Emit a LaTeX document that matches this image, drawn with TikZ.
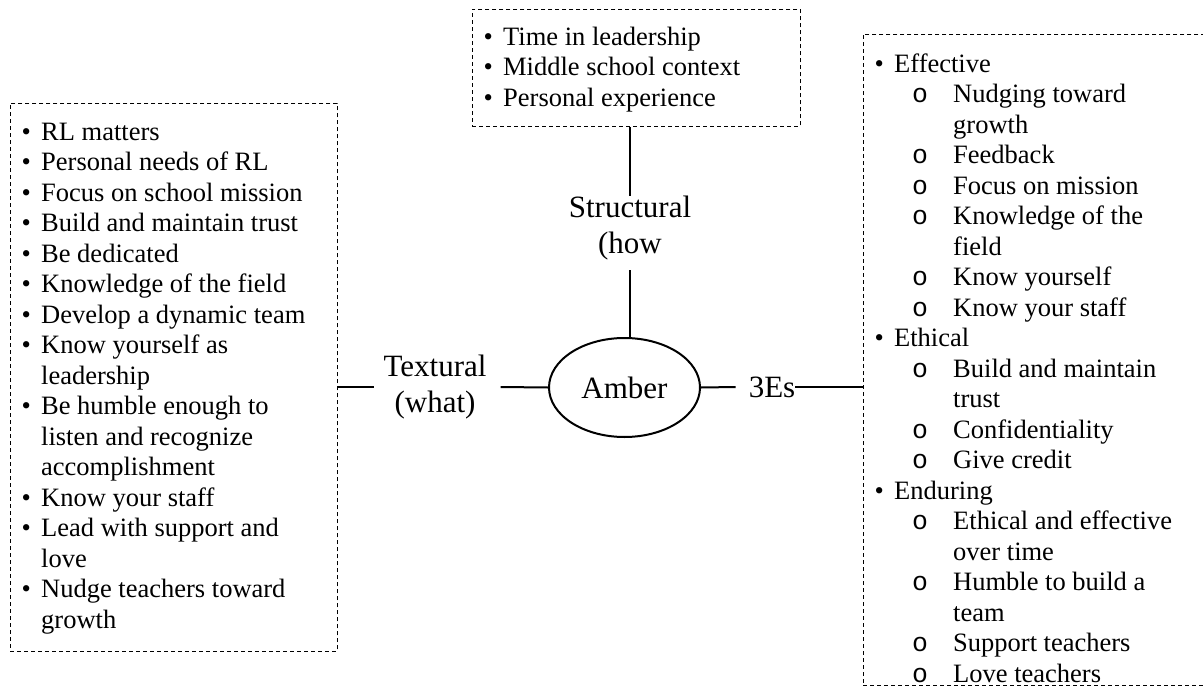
\documentclass[tikz,border=0pt]{standalone}
\usepackage{fontspec}
\setmainfont{Liberation Serif}
\newfontfamily\listmono{Liberation Mono}
\usetikzlibrary{shapes.geometric}

% list line helpers: bullet, sub-bullet and their continuation lines
\newcommand\itm{\rule{0pt}{20pt}\makebox[31pt][l]{\hspace{11.4pt}•}}
\newcommand\subitm{\rule{0pt}{20pt}\makebox[90pt][l]{\hspace{49pt}{\listmono o}}}
\newcommand\cont{\rule{0pt}{20pt}\hspace*{31pt}}
\newcommand\subcont{\rule{0pt}{20pt}\hspace*{90pt}}

\begin{document}
\begin{tikzpicture}[x=1pt,y=-1pt,
  dashbox/.style={draw, dash pattern=on 4pt off 3pt, line width=0.9pt,
    inner sep=0pt, anchor=north west},
  listtext/.style={align=left, inner sep=0pt, anchor=north west,
    font=\fontsize{26.5pt}{30.5pt}\selectfont},
  label/.style={align=center, inner sep=0pt,
    font=\fontsize{31pt}{35.5pt}\selectfont},
  link/.style={line width=2pt}]
\useasboundingbox (0,0) rectangle (1203,696);
\clip (0,0) rectangle (1203,696);

% structural box
\node[dashbox, minimum width=328pt, minimum height=117pt] (factors) at (472,9) {};
\node[listtext] (factorlist) at ([yshift=-16pt]factors.north west)
  {\itm Time in leadership\\
   \itm Middle school context\\
   \itm Personal experience};

% textural box
\node[dashbox, minimum width=327pt, minimum height=548pt] (textbox) at (10,103) {};
\node[listtext] (textlist) at ([yshift=-17pt]textbox.north west)
  {\itm RL matters\\
   \itm Personal needs of RL\\
   \itm Focus on school mission\\
   \itm Build and maintain trust\\
   \itm Be dedicated\\
   \itm Knowledge of the field\\
   \itm Develop a dynamic team\\
   \itm Know yourself as\\
   \cont leadership\\
   \itm Be humble enough to\\
   \cont listen and recognize\\
   \cont accomplishment\\
   \itm Know your staff\\
   \itm Lead with support and\\
   \cont love\\
   \itm Nudge teachers toward\\
   \cont growth};

% 3Es box
\node[dashbox, minimum width=360pt, minimum height=651pt] (esbox) at (863,34) {};
\node[listtext] (eslist) at ([yshift=-18pt]esbox.north west)
  {\itm Effective\\
   \subitm Nudging toward\\
   \subcont growth\\
   \subitm Feedback\\
   \subitm Focus on mission\\
   \subitm Knowledge of the\\
   \subcont field\\
   \subitm Know yourself\\
   \subitm Know your staff\\
   \itm Ethical\\
   \subitm Build and maintain\\
   \subcont trust\\
   \subitm Confidentiality\\
   \subitm Give credit\\
   \itm Enduring\\
   \subitm Ethical and effective\\
   \subcont over time\\
   \subitm Humble to build a\\
   \subcont team\\
   \subitm Support teachers\\
   \subitm Love teachers};

% centre and branch labels
\node[ellipse, draw, line width=2pt, minimum width=151pt, minimum height=99pt,
  inner sep=0pt, font=\fontsize{31pt}{35.5pt}\selectfont] (amber) at (624.5,387.5) {Amber};
\node[label] (structural) at (630,228) {Structural\\(how};
\node[label] (textural) at (435,387) {Textural\\(what)};
\node[label] (threes) at (772,387) {3Es};

% connectors
\draw[link] (structural.north |- factors.south) -- (structural.north);
\draw[link] ([yshift=-10pt]structural.south) -- (structural.south |- amber.north);
\draw[link] (textural.west -| textbox.east) -- ([xshift=-9pt]textural.west);
\draw[link] ([xshift=14pt]textural.east) -- (amber.west);
\draw[link] (amber.east) -- ([xshift=-13pt]threes.west);
\draw[link] (threes.east) -- (threes.east -| esbox.west);
\end{tikzpicture}
\end{document}
